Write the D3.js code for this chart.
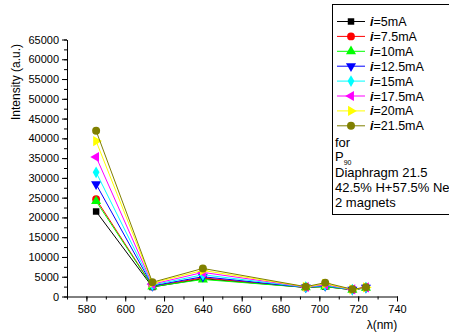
<!DOCTYPE html>
<html>
<head>
<meta charset="utf-8">
<script src="https://cdn.jsdelivr.net/npm/d3@7"></script>
<style>
  body { margin: 0; background: #fff; }
  svg { display: block; font-family: "Liberation Sans", Arial, sans-serif; }
  .axis path, .axis line { stroke: #000; stroke-width: 1; }
  .axis text { font-size: 11px; fill: #000; font-family: "Liberation Sans", Arial, sans-serif; }
</style>
</head>
<body>
<svg></svg>
<script>
'use strict';

const wavelengths = [585, 614, 640, 693, 703, 717, 724];
const currents = ["5mA", "7.5mA", "10mA", "12.5mA", "15mA", "17.5mA", "20mA", "21.5mA"];
const i5 = [21500, 2400, 4500, 2300, 2500, 1700, 2200];
const i7_5 = [24600, 2600, 4700, 2300, 2600, 1700, 2200];
const i10 = [24100, 2500, 4300, 2300, 2500, 1700, 2200];
const i12_5 = [28400, 2700, 5000, 2300, 2700, 1750, 2250];
const i15 = [31400, 2900, 5500, 2350, 2800, 1750, 2250];
const i17_5 = [35300, 3100, 6100, 2400, 3000, 1800, 2300];
const i20 = [39300, 3400, 6600, 2450, 3200, 1800, 2300];
const i21_5 = [41900, 3600, 7100, 2480, 3490, 1820, 2330];
const seriesValues = [i5, i7_5, i10, i12_5, i15, i17_5, i20, i21_5];
const colors = ["#000000", "#ff0000", "#00ff00", "#0000ff", "#00ffff", "#ff00ff", "#ffff00", "#808000"];
const yTicks = d3.range(0, 65001, 5000);
const xTicks = d3.range(580, 741, 20);
const notes = ["for", "P", "Diaphragm 21.5", "42.5% H+57.5% Ne", "2 magnets"];

const width = 449, height = 333;
const svg = d3.select("svg").attr("width", width).attr("height", height);

const x = d3.scaleLinear().domain([570, 740]).range([67, 397]);
const y = d3.scaleLinear().domain([0, 65000]).range([296.5, 39.5]);

// minor ticks first, major on top
svg.append("g").attr("class", "axis")
  .attr("transform", "translate(0,296.5)")
  .call(d3.axisBottom(x).tickValues(d3.range(570, 741, 10)).tickSize(3).tickFormat(""))
  .select(".domain").remove();
svg.append("g").attr("class", "axis")
  .attr("transform", "translate(67,0)")
  .call(d3.axisLeft(y).tickValues(d3.range(0, 65001, 2500)).tickSize(3).tickFormat(""))
  .select(".domain").remove();

svg.append("g").attr("class", "axis")
  .attr("transform", "translate(0,296.5)")
  .call(d3.axisBottom(x).tickValues(xTicks).tickSize(5).tickSizeOuter(0).tickPadding(4).tickFormat(d3.format("d")));
svg.append("g").attr("class", "axis")
  .attr("transform", "translate(67,0)")
  .call(d3.axisLeft(y).tickValues(yTicks).tickSize(5).tickSizeOuter(0).tickPadding(3).tickFormat(d3.format("d")));

svg.append("text")
  .attr("transform", "translate(20,82) rotate(-90)")
  .attr("text-anchor", "middle")
  .style("font-size", "12px")
  .text("Intensity (a.u.)");

svg.append("text")
  .attr("x", 382).attr("y", 329)
  .attr("text-anchor", "middle")
  .style("font-size", "12px")
  .text("λ(nm)");

const symbols = [
  d3.symbolSquare, d3.symbolCircle, d3.symbolTriangle, d3.symbolTriangle,
  d3.symbolDiamond, d3.symbolTriangle, d3.symbolTriangle, d3.symbolCircle
];
const rotations = [0, 0, 0, 180, 0, -90, 90, 0];
const sizes = [42, 48, 44, 44, 40, 44, 44, 50];

function marker(g, k, cx, cy) {
  g.append("path")
    .attr("d", d3.symbol().type(symbols[k]).size(sizes[k])())
    .attr("transform", `translate(${cx},${cy}) rotate(${rotations[k]})`)
    .attr("fill", colors[k]);
}

const line = d3.line().x((d, j) => x(wavelengths[j])).y(d => y(d));

seriesValues.forEach((vals, k) => {
  const g = svg.append("g");
  g.append("path")
    .datum(vals)
    .attr("fill", "none")
    .attr("stroke", colors[k])
    .attr("stroke-width", 1)
    .attr("d", line);
  vals.forEach((v, j) => marker(g, k, x(wavelengths[j]), y(v)));
});

// legend
const legend = svg.append("g");
legend.append("rect")
  .attr("x", 332.5).attr("y", 4.5)
  .attr("width", 130).attr("height", 210)
  .attr("fill", "#fff").attr("stroke", "#000");

currents.forEach((c, k) => {
  const cy = 21.5 + k * 14.9;
  legend.append("line")
    .attr("x1", 337).attr("x2", 365)
    .attr("y1", cy).attr("y2", cy)
    .attr("stroke", colors[k]);
  marker(legend, k, 351, cy);
  const t = legend.append("text")
    .attr("x", 370).attr("y", cy + 4.5)
    .style("font-size", "12.5px");
  t.append("tspan").style("font-style", "italic").style("font-weight", "bold").text("i");
  t.append("tspan").text("=" + c);
});

const noteY = [146.5, 160.5, 176.5, 191.5, 206.5];
notes.forEach((n, k) => {
  const t = legend.append("text")
    .attr("x", 335).attr("y", noteY[k])
    .style("font-size", "13px")
    .text(n);
  if (n === "P") {
    t.append("tspan").attr("dy", 4).style("font-size", "7px").text("90");
  }
});
</script>
</body>
</html>
